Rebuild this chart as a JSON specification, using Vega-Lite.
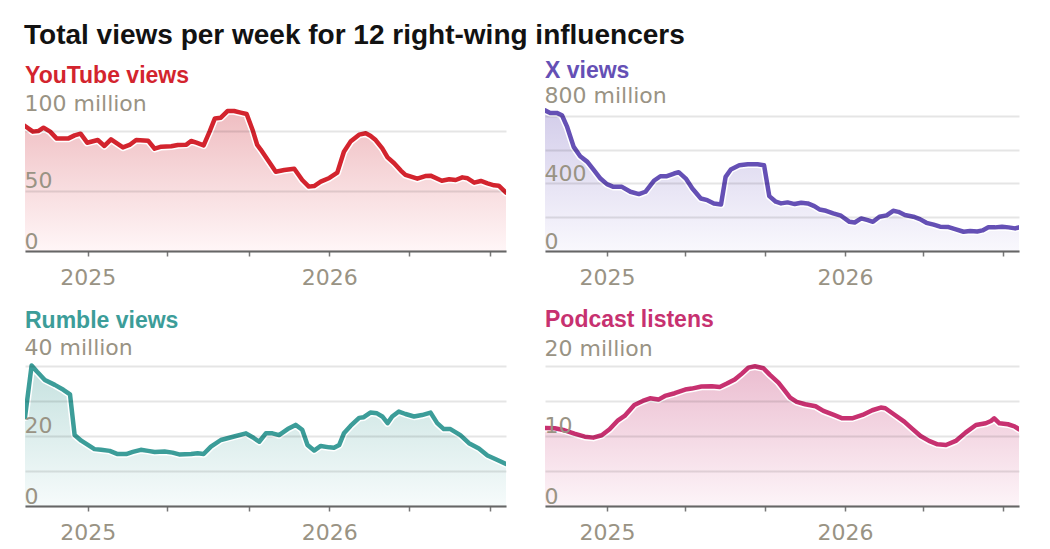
{
  "$schema": "https://vega.github.io/schema/vega-lite/v6.json",
  "padding": {"left": 24, "top": 22, "right": 5, "bottom": 5},
  "background": "white",
  "title": {"text": "Total views per week for 12 right-wing influencers", "anchor": "start", "font": "Liberation Sans", "fontSize": 28, "fontWeight": "bold", "color": "#121212", "baseline": "alphabetic", "offset": -12},
  "config": {"view": {"stroke": null}},
  "columns": 2,
  "spacing": {"row": 110, "column": 39},
  "bounds": "flush",
  "datasets": {
    "yt": [
      {"date": "2024-09-28", "value": 103.9}, {"date": "2024-10-10", "value": 99.2}, {"date": "2024-10-18", "value": 99.7}, {"date": "2024-10-26", "value": 102.5},
      {"date": "2024-11-05", "value": 99.2}, {"date": "2024-11-15", "value": 93.4}, {"date": "2024-12-02", "value": 93.4}, {"date": "2024-12-12", "value": 96.1},
      {"date": "2024-12-21", "value": 97.5}, {"date": "2024-12-31", "value": 90.0}, {"date": "2025-01-16", "value": 92.2}, {"date": "2025-01-26", "value": 87.3},
      {"date": "2025-02-05", "value": 92.8}, {"date": "2025-02-23", "value": 86.1}, {"date": "2025-03-05", "value": 88.1}, {"date": "2025-03-15", "value": 92.2},
      {"date": "2025-04-02", "value": 91.7}, {"date": "2025-04-12", "value": 85.0}, {"date": "2025-04-22", "value": 86.7}, {"date": "2025-05-07", "value": 87.0},
      {"date": "2025-05-17", "value": 88.1}, {"date": "2025-05-30", "value": 88.4}, {"date": "2025-06-06", "value": 91.4}, {"date": "2025-06-14", "value": 90.0},
      {"date": "2025-06-25", "value": 87.8}, {"date": "2025-07-04", "value": 99.2}, {"date": "2025-07-12", "value": 110.2}, {"date": "2025-07-21", "value": 110.8},
      {"date": "2025-07-31", "value": 116.3}, {"date": "2025-08-10", "value": 116.3}, {"date": "2025-08-20", "value": 115.0}, {"date": "2025-08-29", "value": 113.9},
      {"date": "2025-09-07", "value": 100.6}, {"date": "2025-09-14", "value": 88.1}, {"date": "2025-09-19", "value": 84.5}, {"date": "2025-09-30", "value": 75.6},
      {"date": "2025-10-12", "value": 65.9}, {"date": "2025-10-25", "value": 67.3}, {"date": "2025-11-09", "value": 68.4}, {"date": "2025-11-21", "value": 59.0},
      {"date": "2025-12-01", "value": 53.5}, {"date": "2025-12-09", "value": 54.0}, {"date": "2025-12-19", "value": 57.6}, {"date": "2026-01-01", "value": 60.7},
      {"date": "2026-01-13", "value": 65.1}, {"date": "2026-01-23", "value": 82.5}, {"date": "2026-02-02", "value": 90.9}, {"date": "2026-02-15", "value": 96.7},
      {"date": "2026-02-25", "value": 97.8}, {"date": "2026-03-04", "value": 95.8}, {"date": "2026-03-12", "value": 92.2}, {"date": "2026-03-22", "value": 85.3},
      {"date": "2026-03-30", "value": 77.8}, {"date": "2026-04-09", "value": 72.9}, {"date": "2026-04-19", "value": 66.8}, {"date": "2026-04-26", "value": 63.2},
      {"date": "2026-05-14", "value": 60.1}, {"date": "2026-05-26", "value": 62.3}, {"date": "2026-06-03", "value": 62.6}, {"date": "2026-06-20", "value": 58.4},
      {"date": "2026-07-01", "value": 59.6}, {"date": "2026-07-11", "value": 59.0}, {"date": "2026-07-21", "value": 61.2}, {"date": "2026-07-29", "value": 60.4},
      {"date": "2026-08-08", "value": 56.8}, {"date": "2026-08-18", "value": 58.2}, {"date": "2026-08-28", "value": 56.2}, {"date": "2026-09-07", "value": 54.6},
      {"date": "2026-09-14", "value": 54.3}, {"date": "2026-09-25", "value": 48.5}
    ],
    "xv": [
      {"date": "2024-09-28", "value": 833}, {"date": "2024-10-06", "value": 818}, {"date": "2024-10-16", "value": 818}, {"date": "2024-10-24", "value": 804},
      {"date": "2024-11-01", "value": 735}, {"date": "2024-11-11", "value": 617}, {"date": "2024-11-21", "value": 561}, {"date": "2024-12-02", "value": 528},
      {"date": "2024-12-12", "value": 479}, {"date": "2024-12-22", "value": 429}, {"date": "2025-01-01", "value": 396}, {"date": "2025-01-11", "value": 380},
      {"date": "2025-01-24", "value": 380}, {"date": "2025-02-06", "value": 351}, {"date": "2025-02-19", "value": 337}, {"date": "2025-03-01", "value": 351},
      {"date": "2025-03-14", "value": 416}, {"date": "2025-03-24", "value": 443}, {"date": "2025-04-03", "value": 443}, {"date": "2025-04-14", "value": 459},
      {"date": "2025-04-21", "value": 467}, {"date": "2025-05-02", "value": 429}, {"date": "2025-05-12", "value": 370}, {"date": "2025-05-25", "value": 311},
      {"date": "2025-06-04", "value": 301}, {"date": "2025-06-14", "value": 282}, {"date": "2025-06-25", "value": 276}, {"date": "2025-07-02", "value": 439},
      {"date": "2025-07-10", "value": 483}, {"date": "2025-07-23", "value": 508}, {"date": "2025-08-05", "value": 514}, {"date": "2025-08-20", "value": 514},
      {"date": "2025-08-30", "value": 508}, {"date": "2025-09-02", "value": 439}, {"date": "2025-09-07", "value": 325}, {"date": "2025-09-17", "value": 292},
      {"date": "2025-09-25", "value": 282}, {"date": "2025-10-05", "value": 288}, {"date": "2025-10-16", "value": 278}, {"date": "2025-10-26", "value": 286},
      {"date": "2025-11-05", "value": 282}, {"date": "2025-11-15", "value": 266}, {"date": "2025-11-23", "value": 246}, {"date": "2025-12-03", "value": 238},
      {"date": "2025-12-14", "value": 223}, {"date": "2025-12-26", "value": 209}, {"date": "2026-01-08", "value": 173}, {"date": "2026-01-16", "value": 169},
      {"date": "2026-01-26", "value": 193}, {"date": "2026-02-05", "value": 183}, {"date": "2026-02-13", "value": 173}, {"date": "2026-02-23", "value": 203},
      {"date": "2026-03-06", "value": 211}, {"date": "2026-03-16", "value": 238}, {"date": "2026-03-24", "value": 232}, {"date": "2026-04-03", "value": 213},
      {"date": "2026-04-16", "value": 203}, {"date": "2026-04-26", "value": 189}, {"date": "2026-05-06", "value": 167}, {"date": "2026-05-17", "value": 156},
      {"date": "2026-05-27", "value": 144}, {"date": "2026-06-09", "value": 142}, {"date": "2026-06-19", "value": 130}, {"date": "2026-07-02", "value": 114},
      {"date": "2026-07-12", "value": 118}, {"date": "2026-07-23", "value": 116}, {"date": "2026-07-31", "value": 122}, {"date": "2026-08-09", "value": 140},
      {"date": "2026-08-19", "value": 140}, {"date": "2026-08-30", "value": 144}, {"date": "2026-09-09", "value": 140}, {"date": "2026-09-19", "value": 134},
      {"date": "2026-09-25", "value": 140}
    ],
    "rumble": [
      {"date": "2024-09-28", "value": 25.3}, {"date": "2024-10-08", "value": 40.0}, {"date": "2024-10-16", "value": 38.3}, {"date": "2024-10-28", "value": 35.9},
      {"date": "2024-11-12", "value": 34.5}, {"date": "2024-11-25", "value": 33.1}, {"date": "2024-12-05", "value": 31.8}, {"date": "2024-12-12", "value": 20.2},
      {"date": "2024-12-22", "value": 18.6}, {"date": "2025-01-01", "value": 17.4}, {"date": "2025-01-11", "value": 16.2}, {"date": "2025-01-21", "value": 16.0},
      {"date": "2025-02-03", "value": 15.7}, {"date": "2025-02-15", "value": 14.8}, {"date": "2025-02-28", "value": 14.8}, {"date": "2025-03-10", "value": 15.4},
      {"date": "2025-03-22", "value": 16.0}, {"date": "2025-04-02", "value": 15.7}, {"date": "2025-04-12", "value": 15.4}, {"date": "2025-04-27", "value": 15.5},
      {"date": "2025-05-09", "value": 15.2}, {"date": "2025-05-19", "value": 14.7}, {"date": "2025-06-06", "value": 14.8}, {"date": "2025-06-16", "value": 15.0},
      {"date": "2025-06-25", "value": 14.8}, {"date": "2025-07-06", "value": 16.9}, {"date": "2025-07-21", "value": 18.8}, {"date": "2025-08-10", "value": 19.8},
      {"date": "2025-08-28", "value": 20.7}, {"date": "2025-09-07", "value": 19.6}, {"date": "2025-09-17", "value": 18.3}, {"date": "2025-09-27", "value": 20.7},
      {"date": "2025-10-07", "value": 20.7}, {"date": "2025-10-17", "value": 20.2}, {"date": "2025-10-30", "value": 21.9}, {"date": "2025-11-11", "value": 23.1},
      {"date": "2025-11-21", "value": 21.7}, {"date": "2025-11-29", "value": 17.4}, {"date": "2025-12-09", "value": 15.8}, {"date": "2025-12-19", "value": 17.1},
      {"date": "2026-01-01", "value": 16.7}, {"date": "2026-01-08", "value": 16.6}, {"date": "2026-01-16", "value": 17.4}, {"date": "2026-01-23", "value": 20.7},
      {"date": "2026-02-02", "value": 22.8}, {"date": "2026-02-15", "value": 25.1}, {"date": "2026-02-22", "value": 25.3}, {"date": "2026-03-04", "value": 26.6},
      {"date": "2026-03-14", "value": 26.4}, {"date": "2026-03-22", "value": 25.5}, {"date": "2026-03-30", "value": 23.6}, {"date": "2026-04-06", "value": 25.5},
      {"date": "2026-04-16", "value": 26.9}, {"date": "2026-04-26", "value": 26.2}, {"date": "2026-05-09", "value": 25.5}, {"date": "2026-05-21", "value": 25.9},
      {"date": "2026-06-03", "value": 26.6}, {"date": "2026-06-13", "value": 23.6}, {"date": "2026-06-23", "value": 21.9}, {"date": "2026-07-03", "value": 21.9},
      {"date": "2026-07-18", "value": 20.2}, {"date": "2026-07-31", "value": 17.9}, {"date": "2026-08-15", "value": 16.4}, {"date": "2026-08-28", "value": 14.4},
      {"date": "2026-09-12", "value": 13.1}, {"date": "2026-09-25", "value": 12.0}
    ],
    "pod": [
      {"date": "2024-09-28", "value": 11.14}, {"date": "2024-10-13", "value": 11.1}, {"date": "2024-10-28", "value": 10.81}, {"date": "2024-11-12", "value": 10.33},
      {"date": "2024-11-28", "value": 9.9}, {"date": "2024-12-11", "value": 9.76}, {"date": "2024-12-24", "value": 10.1}, {"date": "2025-01-05", "value": 10.95},
      {"date": "2025-01-18", "value": 12.24}, {"date": "2025-01-28", "value": 12.86}, {"date": "2025-02-12", "value": 14.43}, {"date": "2025-02-25", "value": 15.0},
      {"date": "2025-03-08", "value": 15.38}, {"date": "2025-03-21", "value": 15.19}, {"date": "2025-03-31", "value": 15.71}, {"date": "2025-04-15", "value": 16.1},
      {"date": "2025-05-01", "value": 16.62}, {"date": "2025-05-11", "value": 16.76}, {"date": "2025-05-26", "value": 17.05}, {"date": "2025-06-11", "value": 17.1},
      {"date": "2025-06-23", "value": 17.0}, {"date": "2025-07-04", "value": 17.48}, {"date": "2025-07-16", "value": 18.05}, {"date": "2025-07-27", "value": 18.9},
      {"date": "2025-08-06", "value": 19.76}, {"date": "2025-08-16", "value": 19.95}, {"date": "2025-08-29", "value": 19.67}, {"date": "2025-09-08", "value": 18.71},
      {"date": "2025-09-21", "value": 17.62}, {"date": "2025-10-01", "value": 16.43}, {"date": "2025-10-09", "value": 15.48}, {"date": "2025-10-19", "value": 14.86},
      {"date": "2025-11-01", "value": 14.52}, {"date": "2025-11-17", "value": 14.24}, {"date": "2025-11-29", "value": 13.57}, {"date": "2025-12-15", "value": 13.0},
      {"date": "2025-12-28", "value": 12.52}, {"date": "2026-01-12", "value": 12.52}, {"date": "2026-01-28", "value": 13.0}, {"date": "2026-02-12", "value": 13.67},
      {"date": "2026-02-25", "value": 14.05}, {"date": "2026-03-04", "value": 13.95}, {"date": "2026-03-17", "value": 13.1}, {"date": "2026-04-02", "value": 12.05},
      {"date": "2026-04-14", "value": 11.05}, {"date": "2026-04-27", "value": 10.0}, {"date": "2026-05-10", "value": 9.29}, {"date": "2026-05-23", "value": 8.81},
      {"date": "2026-06-05", "value": 8.71}, {"date": "2026-06-20", "value": 9.29}, {"date": "2026-07-05", "value": 10.48}, {"date": "2026-07-21", "value": 11.57},
      {"date": "2026-08-05", "value": 11.81}, {"date": "2026-08-13", "value": 12.14}, {"date": "2026-08-18", "value": 12.52}, {"date": "2026-08-26", "value": 11.81},
      {"date": "2026-09-08", "value": 11.67}, {"date": "2026-09-18", "value": 11.38}, {"date": "2026-09-25", "value": 10.95}
    ]
  },
  "concat": [
    {
      "width": 481, "height": 145,
      "title": {"text": "YouTube views", "color": "#d3242e", "font": "Liberation Sans", "fontSize": 23, "fontWeight": "bold", "anchor": "start", "frame": "group", "baseline": "alphabetic", "offset": -13},
      "data": {"name": "yt"},
      "encoding": {
        "x": {"field": "date", "type": "temporal",
          "scale": {"type": "utc", "domain": [{"year": 2024, "month": 9, "date": 28, "utc": true}, {"year": 2026, "month": 9, "date": 25, "utc": true}]},
          "axis": {"values": [{"year": 2025, "month": 1, "date": 1, "utc": true}, {"year": 2025, "month": 5, "date": 1, "utc": true}, {"year": 2025, "month": 9, "date": 1, "utc": true}, {"year": 2026, "month": 1, "date": 1, "utc": true}, {"year": 2026, "month": 5, "date": 1, "utc": true}, {"year": 2026, "month": 9, "date": 1, "utc": true}],
            "labelExpr": "utcmonth(datum.value) == 0 ? utcFormat(datum.value, '%Y') : ''", "title": null, "grid": false, "domainColor": "#666666", "domainWidth": 2, "tickColor": "#777777", "tickSize": 5, "tickWidth": 1.5, "labelPadding": 11, "labelFont": "DejaVu Sans", "labelFontSize": 22, "labelColor": "#999384", "labelFlush": false, "labelOverlap": false, "labelBound": false, "zindex": 1}},
        "y": {"field": "value", "type": "quantitative",
          "scale": {"domain": [0, 120.5], "nice": false},
          "axis": {"values": [0, 50, 100], "title": null, "grid": true, "gridColor": "#000000", "gridOpacity": 0.1, "gridWidth": 2, "domain": false, "ticks": false, "labelAlign": "left", "labelBaseline": "alphabetic", "labelPadding": 1, "labelFont": "DejaVu Sans", "labelFontSize": 22, "labelColor": "#999384",
            "labelOffset": {"condition": {"test": "datum.value == 100", "value": -20}, "value": -3},
            "labelExpr": "datum.value == 100 ? '100 million' : datum.label", "labelFlush": false, "labelOverlap": false, "labelBound": false, "zindex": 1}}
      },
      "layer": [
        {"mark": {"type": "area", "clip": true, "line": false, "color": {"gradient": "linear", "x1": 0, "y1": 0, "x2": 0, "y2": 1, "stops": [{"offset": 0, "color": "#efbdc1"}, {"offset": 1, "color": "#fff6f7"}]}}},
        {"mark": {"type": "line", "clip": true, "color": "#ffffff", "strokeWidth": 7.5, "strokeJoin": "round", "strokeCap": "round"}},
        {"mark": {"type": "line", "clip": true, "color": "#d3242e", "strokeWidth": 4.5, "strokeJoin": "round", "strokeCap": "round"}}
      ]
    },
    {
      "width": 474, "height": 145,
      "title": {"text": "X views", "color": "#6550b5", "font": "Liberation Sans", "fontSize": 23, "fontWeight": "bold", "anchor": "start", "frame": "group", "baseline": "alphabetic", "offset": -16.5},
      "data": {"name": "xv"},
      "encoding": {
        "x": {"field": "date", "type": "temporal",
          "scale": {"type": "utc", "domain": [{"year": 2024, "month": 9, "date": 28, "utc": true}, {"year": 2026, "month": 9, "date": 25, "utc": true}]},
          "axis": {"values": [{"year": 2025, "month": 1, "date": 1, "utc": true}, {"year": 2025, "month": 5, "date": 1, "utc": true}, {"year": 2025, "month": 9, "date": 1, "utc": true}, {"year": 2026, "month": 1, "date": 1, "utc": true}, {"year": 2026, "month": 5, "date": 1, "utc": true}, {"year": 2026, "month": 9, "date": 1, "utc": true}],
            "labelExpr": "utcmonth(datum.value) == 0 ? utcFormat(datum.value, '%Y') : ''", "title": null, "grid": false, "domainColor": "#666666", "domainWidth": 2, "tickColor": "#777777", "tickSize": 5, "tickWidth": 1.5, "labelPadding": 11, "labelFont": "DejaVu Sans", "labelFontSize": 22, "labelColor": "#999384", "labelFlush": false, "labelOverlap": false, "labelBound": false, "zindex": 1}},
        "y": {"field": "value", "type": "quantitative",
          "scale": {"domain": [0, 859], "nice": false},
          "axis": {"values": [0, 200, 400, 600, 800], "title": null, "grid": true, "gridColor": "#000000", "gridOpacity": 0.1, "gridWidth": 2, "domain": false, "ticks": false, "labelAlign": "left", "labelBaseline": "alphabetic", "labelPadding": 1, "labelFont": "DejaVu Sans", "labelFontSize": 22, "labelColor": "#999384",
            "labelOffset": {"condition": {"test": "datum.value == 800", "value": -13}, "value": -3},
            "labelExpr": "datum.value == 800 ? '800 million' : (datum.value == 400 || datum.value == 0 ? datum.label : '')", "labelFlush": false, "labelOverlap": false, "labelBound": false, "zindex": 1}}
      },
      "layer": [
        {"mark": {"type": "area", "clip": true, "line": false, "color": {"gradient": "linear", "x1": 0, "y1": 0, "x2": 0, "y2": 1, "stops": [{"offset": 0, "color": "#d3cdea"}, {"offset": 1, "color": "#f9f8fd"}]}}},
        {"mark": {"type": "line", "clip": true, "color": "#ffffff", "strokeWidth": 7.5, "strokeJoin": "round", "strokeCap": "round"}},
        {"mark": {"type": "line", "clip": true, "color": "#6550b5", "strokeWidth": 4.5, "strokeJoin": "round", "strokeCap": "round"}}
      ]
    },
    {
      "width": 481, "height": 145,
      "title": {"text": "Rumble views", "color": "#3c9d99", "font": "Liberation Sans", "fontSize": 23, "fontWeight": "bold", "anchor": "start", "frame": "group", "baseline": "alphabetic", "offset": -14.5},
      "data": {"name": "rumble"},
      "encoding": {
        "x": {"field": "date", "type": "temporal",
          "scale": {"type": "utc", "domain": [{"year": 2024, "month": 9, "date": 28, "utc": true}, {"year": 2026, "month": 9, "date": 25, "utc": true}]},
          "axis": {"values": [{"year": 2025, "month": 1, "date": 1, "utc": true}, {"year": 2025, "month": 5, "date": 1, "utc": true}, {"year": 2025, "month": 9, "date": 1, "utc": true}, {"year": 2026, "month": 1, "date": 1, "utc": true}, {"year": 2026, "month": 5, "date": 1, "utc": true}, {"year": 2026, "month": 9, "date": 1, "utc": true}],
            "labelExpr": "utcmonth(datum.value) == 0 ? utcFormat(datum.value, '%Y') : ''", "title": null, "grid": false, "domainColor": "#666666", "domainWidth": 2, "tickColor": "#777777", "tickSize": 5, "tickWidth": 1.5, "labelPadding": 11, "labelFont": "DejaVu Sans", "labelFontSize": 22, "labelColor": "#999384", "labelFlush": false, "labelOverlap": false, "labelBound": false, "zindex": 1}},
        "y": {"field": "value", "type": "quantitative",
          "scale": {"domain": [0, 41.3], "nice": false},
          "axis": {"values": [0, 10, 20, 30, 40], "title": null, "grid": true, "gridColor": "#000000", "gridOpacity": 0.1, "gridWidth": 2, "domain": false, "ticks": false, "labelAlign": "left", "labelBaseline": "alphabetic", "labelPadding": 1, "labelFont": "DejaVu Sans", "labelFontSize": 22, "labelColor": "#999384",
            "labelOffset": {"condition": {"test": "datum.value == 40", "value": -11}, "value": -3},
            "labelExpr": "datum.value == 40 ? '40 million' : (datum.value == 20 || datum.value == 0 ? datum.label : '')", "labelFlush": false, "labelOverlap": false, "labelBound": false, "zindex": 1}}
      },
      "layer": [
        {"mark": {"type": "area", "clip": true, "line": false, "color": {"gradient": "linear", "x1": 0, "y1": 0, "x2": 0, "y2": 1, "stops": [{"offset": 0, "color": "#c5e1df"}, {"offset": 1, "color": "#f6fbfb"}]}}},
        {"mark": {"type": "line", "clip": true, "color": "#ffffff", "strokeWidth": 7.5, "strokeJoin": "round", "strokeCap": "round"}},
        {"mark": {"type": "line", "clip": true, "color": "#3c9d99", "strokeWidth": 4.5, "strokeJoin": "round", "strokeCap": "round"}}
      ]
    },
    {
      "width": 474, "height": 145,
      "title": {"text": "Podcast listens", "color": "#c73170", "font": "Liberation Sans", "fontSize": 23, "fontWeight": "bold", "anchor": "start", "frame": "group", "baseline": "alphabetic", "offset": -12},
      "data": {"name": "pod"},
      "encoding": {
        "x": {"field": "date", "type": "temporal",
          "scale": {"type": "utc", "domain": [{"year": 2024, "month": 9, "date": 28, "utc": true}, {"year": 2026, "month": 9, "date": 25, "utc": true}]},
          "axis": {"values": [{"year": 2025, "month": 1, "date": 1, "utc": true}, {"year": 2025, "month": 5, "date": 1, "utc": true}, {"year": 2025, "month": 9, "date": 1, "utc": true}, {"year": 2026, "month": 1, "date": 1, "utc": true}, {"year": 2026, "month": 5, "date": 1, "utc": true}, {"year": 2026, "month": 9, "date": 1, "utc": true}],
            "labelExpr": "utcmonth(datum.value) == 0 ? utcFormat(datum.value, '%Y') : ''", "title": null, "grid": false, "domainColor": "#666666", "domainWidth": 2, "tickColor": "#777777", "tickSize": 5, "tickWidth": 1.5, "labelPadding": 11, "labelFont": "DejaVu Sans", "labelFontSize": 22, "labelColor": "#999384", "labelFlush": false, "labelOverlap": false, "labelBound": false, "zindex": 1}},
        "y": {"field": "value", "type": "quantitative",
          "scale": {"domain": [0, 20.7], "nice": false},
          "axis": {"values": [0, 5, 10, 15, 20], "title": null, "grid": true, "gridColor": "#000000", "gridOpacity": 0.1, "gridWidth": 2, "domain": false, "ticks": false, "labelAlign": "left", "labelBaseline": "alphabetic", "labelPadding": 1, "labelFont": "DejaVu Sans", "labelFontSize": 22, "labelColor": "#999384",
            "labelOffset": {"condition": {"test": "datum.value == 20", "value": -10}, "value": -3},
            "labelExpr": "datum.value == 20 ? '20 million' : (datum.value == 10 || datum.value == 0 ? datum.label : '')", "labelFlush": false, "labelOverlap": false, "labelBound": false, "zindex": 1}}
      },
      "layer": [
        {"mark": {"type": "area", "clip": true, "line": false, "color": {"gradient": "linear", "x1": 0, "y1": 0, "x2": 0, "y2": 1, "stops": [{"offset": 0, "color": "#ebbdd0"}, {"offset": 1, "color": "#fdf4f8"}]}}},
        {"mark": {"type": "line", "clip": true, "color": "#ffffff", "strokeWidth": 7.5, "strokeJoin": "round", "strokeCap": "round"}},
        {"mark": {"type": "line", "clip": true, "color": "#c73170", "strokeWidth": 4.5, "strokeJoin": "round", "strokeCap": "round"}}
      ]
    }
  ]
}
